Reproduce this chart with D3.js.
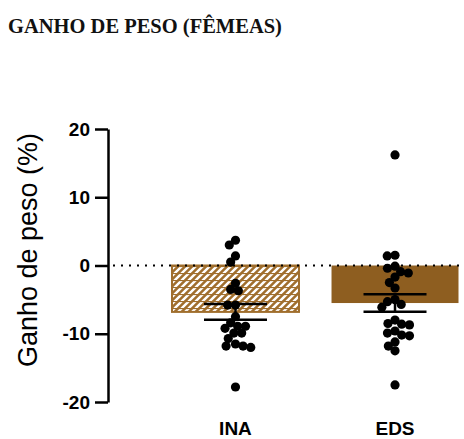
<!DOCTYPE html>
<html>
<head>
<meta charset="utf-8">
<script src="https://cdn.jsdelivr.net/npm/d3@7"></script>
<style>
  body { margin: 0; background: #fff; }
  svg { display: block; }
</style>
</head>
<body>
<svg id="chart" width="464" height="439"></svg>
<script>
// data
var categories = ["INA", "EDS"];
var means = [-6.8, -5.5];
var sems = [1.15, 1.27];
var inaValues = [3.7, 3.0, 1.4, 0.5, -2.6, -3.5, -3.7, -5.8, -5.8, -7.5, -8.4, -8.9, -8.9, -9.2, -9.9, -9.9, -10.7, -11.5, -11.8, -11.8, -12.0, -17.8];
var edsValues = [16.2, 1.5, 1.4, -0.1, -0.4, -0.9, -1.1, -1.7, -2.5, -3.3, -5.0, -5.3, -5.7, -6.1, -8.0, -8.5, -8.6, -8.7, -9.6, -9.9, -10.2, -10.3, -11.2, -11.8, -12.5, -17.5];
var yTicks = [-20, -10, 0, 10, 20];
var points = [inaValues, edsValues];

var svg = d3.select('#chart');

var y = d3.scaleLinear().domain([-20, 20]).range([402, 129]);
var x = d3.scaleBand().domain(categories).range([172, 458.5]).paddingInner(0.204).paddingOuter(0);

// hatch for the INA bar
var defs = svg.append('defs');
var pat = defs.append('pattern')
  .attr('id', 'hatch')
  .attr('patternUnits', 'userSpaceOnUse')
  .attr('width', 7)
  .attr('height', 7);
pat.append('rect').attr('width', 7).attr('height', 7).attr('fill', '#a06e2d');
pat.append('path').attr('d', 'M-1,8 L8,-1 M-1,1 L1,-1 M6,8 L8,6')
  .attr('stroke', '#fff').attr('stroke-width', 2.4);
pat.append('line').attr('x1', 0).attr('x2', 7).attr('y1', 0.5).attr('y2', 0.5)
  .attr('stroke', '#a06e2d').attr('stroke-width', 1.2);

// title
svg.append('text')
  .attr('x', 8)
  .attr('y', 33)
  .attr('font-family', '"Liberation Serif", "Times New Roman", serif')
  .attr('font-weight', 'bold')
  .attr('font-size', '20.5px')
  .attr('fill', '#111')
  .text('GANHO DE PESO (FÊMEAS)');

// bars
var fills = ['url(#hatch)', '#8e5e20'];
var strokes = ['#a06e2d', '#8e5e20'];
svg.selectAll('rect.bar')
  .data(categories)
  .enter().append('rect')
  .attr('class', 'bar')
  .attr('x', function(d) { return x(d); })
  .attr('width', x.bandwidth())
  .attr('y', y(0))
  .attr('height', function(d, i) { return y(means[i]) - y(0); })
  .attr('fill', function(d, i) { return fills[i]; })
  .attr('stroke', function(d, i) { return strokes[i]; })
  .attr('stroke-width', function(d, i) { return i == 0 ? 2 : 0; });

// zero line
svg.append('line')
  .attr('x1', 113)
  .attr('x2', 462)
  .attr('y1', y(0))
  .attr('y2', y(0))
  .attr('stroke', '#000')
  .attr('stroke-width', 2.2)
  .attr('stroke-dasharray', '2,6');

// error bars
var capW = 63;
categories.forEach(function(c, i) {
  var cx = x(c) + x.bandwidth() / 2;
  var g = svg.append('g').attr('stroke', '#000').attr('stroke-width', 2.5);
  g.append('line').attr('x1', cx).attr('x2', cx)
    .attr('y1', y(means[i] + sems[i])).attr('y2', y(means[i] - sems[i]));
  g.append('line').attr('x1', cx - capW / 2).attr('x2', cx + capW / 2)
    .attr('y1', y(means[i] + sems[i])).attr('y2', y(means[i] + sems[i]));
  g.append('line').attr('x1', cx - capW / 2).attr('x2', cx + capW / 2)
    .attr('y1', y(means[i] - sems[i])).attr('y2', y(means[i] - sems[i]));
});

// simple beeswarm so dots don't sit on top of each other
var r = 4.6;
function swarm(vals, cx) {
  var diam = r * 2 * 0.85;
  var placed = [];
  var sorted = vals.slice().sort(function(a, b) { return b - a; });
  sorted.forEach(function(v) {
    var py = y(v);
    var cands = [cx];
    placed.forEach(function(p) {
      var dy = Math.abs(p.y - py);
      if (dy < diam) {
        var dx = Math.sqrt(diam * diam - dy * dy);
        cands.push(p.x - dx, p.x + dx);
      }
    });
    cands.sort(function(a, b) { return Math.abs(a - cx) - Math.abs(b - cx); });
    var px = cx;
    for (var k = 0; k < cands.length; k++) {
      var ok = placed.every(function(p) {
        return Math.hypot(p.x - cands[k], p.y - py) >= diam - 0.01;
      });
      if (ok) { px = cands[k]; break; }
    }
    placed.push({x: px, y: py});
  });
  return placed;
}

categories.forEach(function(c, i) {
  var cx = x(c) + x.bandwidth() / 2;
  svg.append('g').selectAll('circle')
    .data(swarm(points[i], cx))
    .enter().append('circle')
    .attr('cx', function(d) { return d.x; })
    .attr('cy', function(d) { return d.y; })
    .attr('r', r)
    .attr('fill', '#000');
});

// y axis
var yAxis = d3.axisLeft(y).tickValues(yTicks)
  .tickFormat(function(d) { return String(d); })
  .tickSize(13).tickSizeOuter(0).tickPadding(5);
var ax = svg.append('g').attr('transform', 'translate(108,0)').call(yAxis);
ax.select('.domain').attr('stroke-width', 2.5).attr('stroke', '#000');
ax.selectAll('.tick line').attr('stroke-width', 2.5).attr('stroke', '#000');
ax.selectAll('.tick text')
  .attr('font-family', '"Liberation Sans", Arial, sans-serif')
  .attr('font-weight', 'bold')
  .attr('font-size', '19px')
  .attr('fill', '#000');

// y label
svg.append('text')
  .attr('transform', 'translate(37,250) rotate(-90)')
  .attr('text-anchor', 'middle')
  .attr('font-family', '"Liberation Sans", Arial, sans-serif')
  .attr('font-size', '27px')
  .attr('fill', '#000')
  .text('Ganho de peso (%)');

// category labels
svg.selectAll('text.cat')
  .data(categories)
  .enter().append('text')
  .attr('class', 'cat')
  .attr('x', function(d) { return x(d) + x.bandwidth() / 2; })
  .attr('y', 435)
  .attr('text-anchor', 'middle')
  .attr('font-family', '"Liberation Sans", Arial, sans-serif')
  .attr('font-weight', 'bold')
  .attr('font-size', '19px')
  .attr('fill', '#000')
  .text(function(d) { return d; });
</script>
</body>
</html>
